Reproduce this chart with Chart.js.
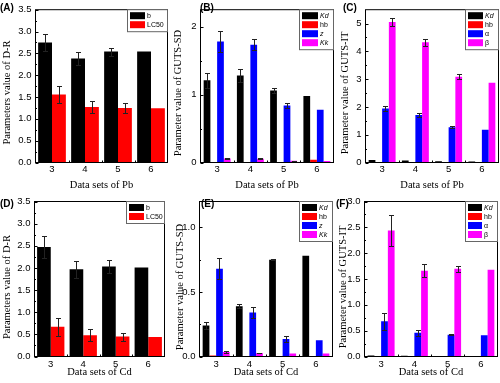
<!DOCTYPE html>
<html>
<head>
<meta charset="utf-8">
<script src="https://cdn.jsdelivr.net/npm/chart.js@4.4.1/dist/chart.umd.min.js"></script>
<style>
  html, body { margin: 0; padding: 0; background: #fff; }
  #wrap { position: relative; width: 500px; height: 383px; overflow: hidden; background: #fff; }
  canvas { position: absolute; }
</style>
</head>
<body>
<div id="wrap">
  <canvas id="pA" width="170" height="192" style="left:0px;top:0px;width:170px;height:192px"></canvas>
  <canvas id="pB" width="167" height="192" style="left:168px;top:0px;width:167px;height:192px"></canvas>
  <canvas id="pC" width="165" height="192" style="left:335px;top:0px;width:165px;height:192px"></canvas>
  <canvas id="pD" width="170" height="193" style="left:0px;top:190px;width:170px;height:193px"></canvas>
  <canvas id="pE" width="167" height="193" style="left:168px;top:190px;width:167px;height:193px"></canvas>
  <canvas id="pF" width="165" height="193" style="left:335px;top:190px;width:165px;height:193px"></canvas>
</div>
<script>
// ---------------- DATA ----------------
const categories = ['3', '4', '5', '6'];

// (A) Pb, D-R model
const pbDR_b        = [2.75, 2.38, 2.54, 2.54];
const pbDR_b_err    = [0.20, 0.14, 0.09, 0];
const pbDR_lc50     = [1.56, 1.27, 1.25, 1.24];
const pbDR_lc50_err = [0.19, 0.13, 0.11, 0];

// (B) Pb, GUTS-SD
const pbSD_kd     = [1.21, 1.28, 1.06, 0.98];
const pbSD_kd_err = [0.11, 0.09, 0.04, 0];
const pbSD_hb     = [0.004, 0.004, 0.004, 0.04];
const pbSD_hb_err = [0, 0, 0, 0];
const pbSD_z      = [1.78, 1.735, 0.84, 0.775];
const pbSD_z_err  = [0.15, 0.08, 0.04, 0];
const pbSD_kk     = [0.06, 0.055, 0.024, 0.022];
const pbSD_kk_err = [0.01, 0.008, 0.005, 0];

// (C) Pb, GUTS-IT
const pbIT_kd      = [0.094, 0.07, 0.047, 0.04];
const pbIT_kd_err  = [0, 0, 0, 0];
const pbIT_hb      = [0.002, 0.002, 0.002, 0.002];
const pbIT_hb_err  = [0, 0, 0, 0];
const pbIT_a       = [1.94, 1.71, 1.27, 1.18];
const pbIT_a_err   = [0.09, 0.07, 0.04, 0];
const pbIT_b       = [5.06, 4.33, 3.09, 2.87];
const pbIT_b_err   = [0.15, 0.12, 0.09, 0];

// (D) Cd, D-R model
const cdDR_b        = [2.47, 1.97, 2.03, 2.01];
const cdDR_b_err    = [0.25, 0.19, 0.14, 0];
const cdDR_lc50     = [0.67, 0.48, 0.45, 0.44];
const cdDR_lc50_err = [0.20, 0.14, 0.09, 0];

// (E) Cd, GUTS-SD
const cdSD_kd     = [0.24, 0.39, 0.75, 0.78];
const cdSD_kd_err = [0.03, 0.015, 0.005, 0];
const cdSD_hb     = [0.008, 0.003, 0.001, 0.001];
const cdSD_hb_err = [0, 0, 0, 0];
const cdSD_z      = [0.68, 0.34, 0.135, 0.125];
const cdSD_z_err  = [0.08, 0.045, 0.02, 0];
const cdSD_kk     = [0.035, 0.027, 0.024, 0.024];
const cdSD_kk_err = [0.005, 0.003, 0, 0];

// (F) Cd, GUTS-IT
const cdIT_kd     = [0.02, 0.015, 0.012, 0.012];
const cdIT_kd_err = [0, 0, 0, 0];
const cdIT_hb     = [0.002, 0.002, 0.002, 0.002];
const cdIT_hb_err = [0, 0, 0, 0];
const cdIT_a      = [0.68, 0.46, 0.42, 0.41];
const cdIT_a_err  = [0.17, 0.06, 0.01, 0];
const cdIT_b      = [2.44, 1.66, 1.70, 1.68];
const cdIT_b_err  = [0.30, 0.13, 0.06, 0];

// Labels
const drLabels = ['b', 'LC50'];
const sdLabels = ['Kd', 'hb', 'z', 'Kk'];
const itLabels = ['Kd', 'hb', 'α', 'β'];
const italicLabels = ['Kd', 'z', 'Kk'];
const yTitles = { dr: 'Parameters value of D-R', sd: 'Parameter value of GUTS-SD', it: 'Parameter value of GUTS-IT' };
const xTitles = { pb: 'Data sets of Pb', cd: 'Data sets of Cd' };

// ---------------- STYLE / GEOMETRY ----------------
const COLORS2 = ['#000000', '#ff0000'];
const COLORS4 = ['#000000', '#ff0000', '#0000ff', '#ff00ff'];
const TICK_FONT = { family: "'Liberation Sans', Arial, sans-serif", size: 9.5 };
const TITLE_FONT = "10.5px 'Liberation Serif', 'Times New Roman', serif";
const LABEL_FONT = "bold 10px 'Liberation Sans', Arial, sans-serif";

const geo = {
  pA: { cx: 0,   cy: 0,   w: 170, h: 192, l: 35.5,  t: 6.5,   r: 167.5, b: 162.5, yTx: 7,     yTy: 92.5, xTy: 185, lab: '(A)', labX: 0,   labY: 11,  legW: 40, swW: 15, tickPad: 1.2 },
  pB: { cx: 168, cy: 0,   w: 167, h: 192, l: 200.5, t: 6.5,   r: 333.5, b: 162.5, yTx: 178.5, yTy: 93,   xTy: 185, lab: '(B)', labX: 200, labY: 10.5, legW: 34, swW: 16, tickPad: 1.2 },
  pC: { cx: 335, cy: 0,   w: 165, h: 192, l: 365.5, t: 6.5,   r: 498.5, b: 162.5, yTx: 345,   yTy: 93,   xTy: 185, lab: '(C)', labX: 343, labY: 10.5, legW: 33, swW: 15, tickPad: 1.2 },
  pD: { cx: 0,   cy: 190, w: 170, h: 193, l: 34.5,  t: 201.5, r: 164.5, b: 356.5, yTx: 7,     yTy: 287,  xTy: 372, lab: '(D)', labX: 0,   labY: 207, legW: 38, swW: 15, tickPad: 1.8 },
  pE: { cx: 168, cy: 190, w: 167, h: 193, l: 199.5, t: 201.5, r: 332.5, b: 356.5, yTx: 180,   yTy: 287,  xTy: 372, lab: '(E)', labX: 201, labY: 207, legW: 33, swW: 15, tickPad: 1.8 },
  pF: { cx: 335, cy: 190, w: 165, h: 193, l: 364.5, t: 201.5, r: 497.5, b: 356.5, yTx: 343.5, yTy: 287,  xTy: 372, lab: '(F)', labX: 336, labY: 207, legW: 32, swW: 14, tickPad: 1.8 }
};

// ---------------- PLUGIN: error bars, frame, ticks, legend, titles ----------------
const decor = {
  id: 'decor',
  afterDatasetsDraw(chart) {
    const ctx = chart.ctx;
    const ys = chart.scales.y;
    ctx.save();
    ctx.strokeStyle = '#222';
    ctx.lineWidth = 1;
    chart.data.datasets.forEach((ds, i) => {
      const meta = chart.getDatasetMeta(i);
      if (!ds.errors) return;
      meta.data.forEach((bar, j) => {
        const e = ds.errors[j];
        if (!e) return;
        const v = ds.data[j];
        const x = Math.round(bar.x) + 0.5;
        const yTop = Math.round(ys.getPixelForValue(v + e)) + 0.5;
        const yBot = Math.round(ys.getPixelForValue(Math.max(v - e, 0))) + 0.5;
        ctx.beginPath();
        ctx.moveTo(x, yTop); ctx.lineTo(x, yBot);
        ctx.moveTo(x - 2.5, yTop); ctx.lineTo(x + 2.5, yTop);
        ctx.moveTo(x - 2.5, yBot); ctx.lineTo(x + 2.5, yBot);
        ctx.stroke();
      });
    });
    ctx.restore();
  },
  afterDraw(chart) {
    const g = geo[chart.canvas.id];
    const ctx = chart.ctx;
    const a = chart.chartArea;
    const ys = chart.scales.y;
    const xs = chart.scales.x;
    ctx.save();
    // frame
    ctx.strokeStyle = '#000';
    ctx.lineWidth = 1;
    ctx.strokeRect(a.left, a.top, a.right - a.left, a.bottom - a.top);

    // inward tick marks on left axis (major at labels, minor halfway)
    ctx.beginPath();
    const tks = ys.ticks;
    tks.forEach((t, k) => {
      const py = Math.round(ys.getPixelForValue(t.value)) + 0.5;
      ctx.moveTo(a.left, py); ctx.lineTo(a.left + 3, py);
      if (k < tks.length - 1) {
        const mv = (t.value + tks[k + 1].value) / 2;
        const my = Math.round(ys.getPixelForValue(mv)) + 0.5;
        ctx.moveTo(a.left, my); ctx.lineTo(a.left + 1.5, my);
      }
    });
    // minor marks on bottom axis between categories
    for (let k = 0; k < categories.length - 1; k++) {
      const px = Math.round((xs.getPixelForValue(k) + xs.getPixelForValue(k + 1)) / 2) + 0.5;
      ctx.moveTo(px, a.bottom); ctx.lineTo(px, a.bottom - 2);
    }
    ctx.stroke();

    // legend inside top-right
    const dsets = chart.data.datasets;
    const n = dsets.length;
    const bw = g.legW, bh = 4 + n * 9;
    const bx = a.right - bw, by = a.top;
    ctx.fillStyle = '#fff';
    ctx.fillRect(bx, by, bw, bh);
    ctx.strokeStyle = '#666';
    ctx.lineWidth = 1;
    ctx.strokeRect(bx, by, bw, bh);
    dsets.forEach((ds, i) => {
      const sy = by + 2.5 + i * 9;
      ctx.fillStyle = ds.backgroundColor;
      ctx.fillRect(bx + 2.5, sy, g.swW, 7);
      const it = italicLabels.includes(ds.label);
      ctx.font = (it ? 'italic ' : '') + "7px 'Liberation Sans', Arial, sans-serif";
      ctx.fillStyle = '#000';
      ctx.textAlign = 'left';
      ctx.textBaseline = 'middle';
      ctx.fillText(ds.label, bx + 2.5 + g.swW + 2, sy + 3.8);
    });

    // axis titles
    ctx.fillStyle = '#000';
    ctx.font = TITLE_FONT;
    ctx.textAlign = 'center';
    ctx.textBaseline = 'middle';
    ctx.fillText(chart.options.xTitleText, (a.left + a.right) / 2, g.xTy - g.cy);
    ctx.save();
    ctx.translate(g.yTx - g.cx, g.yTy - g.cy);
    ctx.rotate(-Math.PI / 2);
    ctx.fillText(chart.options.yTitleText, 0, 0);
    ctx.restore();

    // panel label
    ctx.font = LABEL_FONT;
    ctx.textAlign = 'left';
    ctx.textBaseline = 'alphabetic';
    ctx.fillText(g.lab, g.labX - g.cx, g.labY - g.cy);
    ctx.restore();
  }
};

function makeChart(id, labels, series, errs, colors, yMax, yStep, decimals, yTitle, xTitle, catPct) {
  const g = geo[id];
  const datasets = series.map((s, i) => ({
    label: labels[i],
    data: s,
    errors: errs[i],
    backgroundColor: colors[i],
    borderWidth: 0,
    barPercentage: 1.0,
    categoryPercentage: catPct
  }));
  return new Chart(document.getElementById(id), {
    type: 'bar',
    data: { labels: categories, datasets },
    options: {
      responsive: false,
      maintainAspectRatio: false,
      devicePixelRatio: 1,
      animation: false,
      events: [],
      xTitleText: xTitle,
      yTitleText: yTitle,
      layout: { padding: { left: 0, top: g.t - g.cy, right: g.cx + g.w - g.r, bottom: 0 } },
      plugins: { legend: { display: false }, tooltip: { enabled: false }, title: { display: false } },
      scales: {
        x: {
          offset: true,
          grid: { display: false, drawTicks: false },
          border: { display: false },
          ticks: { color: '#000', font: TICK_FONT, padding: g.tickPad, maxRotation: 0 },
          afterFit(scale) { scale.height = g.cy + g.h - g.b; }
        },
        y: {
          min: 0,
          max: yMax,
          grid: { display: false, drawTicks: false },
          border: { display: false },
          ticks: {
            stepSize: yStep,
            includeBounds: false,
            color: '#000',
            font: TICK_FONT,
            padding: 4,
            callback: (v) => Number(v).toFixed(decimals)
          },
          afterFit(scale) { scale.width = g.l - g.cx; }
        }
      }
    },
    plugins: [decor]
  });
}

makeChart('pA', drLabels, [pbDR_b, pbDR_lc50], [pbDR_b_err, pbDR_lc50_err], COLORS2, 3.5, 0.5, 1, yTitles.dr, xTitles.pb, 0.84);
makeChart('pB', sdLabels, [pbSD_kd, pbSD_hb, pbSD_z, pbSD_kk], [pbSD_kd_err, pbSD_hb_err, pbSD_z_err, pbSD_kk_err], COLORS4, 2.25, 1, 0, yTitles.sd, xTitles.pb, 0.81);
makeChart('pC', itLabels, [pbIT_kd, pbIT_hb, pbIT_a, pbIT_b], [pbIT_kd_err, pbIT_hb_err, pbIT_a_err, pbIT_b_err], COLORS4, 5.5, 1, 0, yTitles.it, xTitles.pb, 0.81);
makeChart('pD', drLabels, [cdDR_b, cdDR_lc50], [cdDR_b_err, cdDR_lc50_err], COLORS2, 3.5, 0.5, 1, yTitles.dr, xTitles.cd, 0.84);
makeChart('pE', sdLabels, [cdSD_kd, cdSD_hb, cdSD_z, cdSD_kk], [cdSD_kd_err, cdSD_hb_err, cdSD_z_err, cdSD_kk_err], COLORS4, 1.2, 0.5, 1, yTitles.sd, xTitles.cd, 0.81);
makeChart('pF', itLabels, [cdIT_kd, cdIT_hb, cdIT_a, cdIT_b], [cdIT_kd_err, cdIT_hb_err, cdIT_a_err, cdIT_b_err], COLORS4, 3.0, 0.5, 1, yTitles.it, xTitles.cd, 0.81);
</script>
</body>
</html>
